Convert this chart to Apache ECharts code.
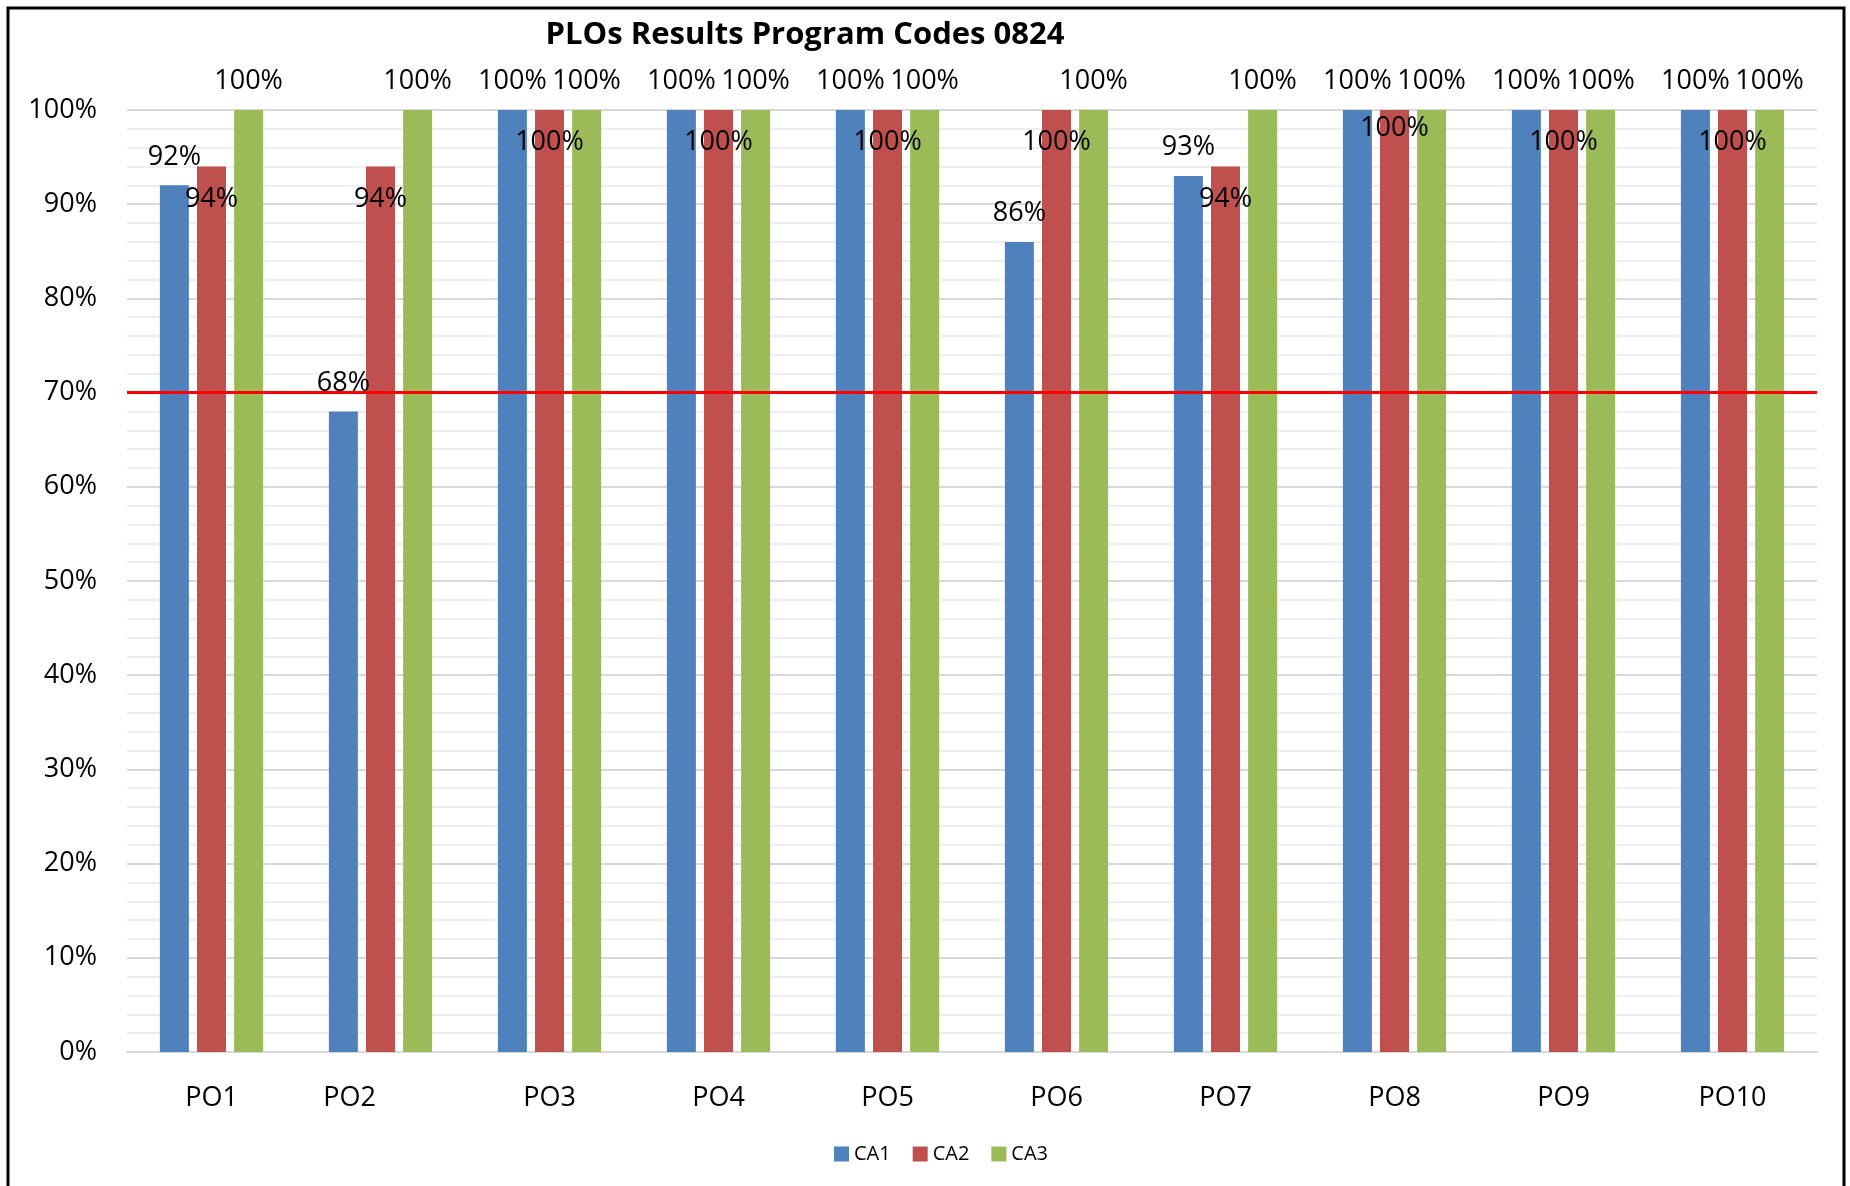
<!DOCTYPE html>
<html>
<head>
<meta charset="utf-8">
<script src="https://cdn.jsdelivr.net/npm/echarts@6/dist/echarts.min.js"></script>
<style>
  html, body { margin: 0; padding: 0; background: #fff; }
  #main { width: 1850px; height: 1186px; }
</style>
</head>
<body>
<div id="main"></div>
<script>
const categories = ['PO1', 'PO2', 'PO3', 'PO4', 'PO5', 'PO6', 'PO7', 'PO8', 'PO9', 'PO10'];
const ca1 = [0.92, 0.68, 1, 1, 1, 0.86, 0.93, 1, 1, 1];
const ca2 = [0.94, 0.94, 1, 1, 1, 1, 0.94, 1, 1, 1];
const ca3 = [1, 1, 1, 1, 1, 1, 1, 1, 1, 1];
const target = 0.7;

const FONT = '"Open Sans", sans-serif';

function pct(v) {
  return Math.round(v * 100) + '%';
}

const chart = echarts.init(document.getElementById('main'));

// PO2 label sits a little left of its bars in the original
const xData = categories.map(c => c === 'PO2'
  ? { value: c, textStyle: { padding: [0, 62, 0, 0] } }
  : c);

// red labels sit inside the bar top; PO8 one sits a bit higher
const ca2Data = ca2.map((v, i) => categories[i] === 'PO8'
  ? { value: v, label: { distance: 5 } }
  : v);

const option = {
  backgroundColor: '#fff',
  animation: false,
  title: {
    text: 'PLOs Results Program Codes 0824',
    left: 800,
    top: 15,
    textAlign: 'center',
    textStyle: { fontFamily: FONT, fontSize: 31, fontWeight: 'bold', color: '#000' }
  },
  legend: {
    bottom: 17,
    left: 829,
    itemWidth: 15,
    itemHeight: 15,
    itemGap: 22,
    icon: 'rect',
    textStyle: { fontFamily: FONT, fontSize: 20, color: '#000' },
    data: ['CA1', 'CA2', 'CA3']
  },
  grid: { left: 127, right: 33, top: 110, bottom: 134 },
  xAxis: {
    type: 'category',
    data: xData,
    axisLine: { lineStyle: { color: '#d9d9d9', width: 2 } },
    axisTick: { show: false },
    axisLabel: { fontFamily: FONT, fontSize: 27, color: '#000', margin: 33 }
  },
  yAxis: {
    type: 'value',
    min: 0,
    max: 1,
    interval: 0.1,
    axisLine: { show: false },
    axisTick: { show: false },
    axisLabel: { fontFamily: FONT, fontSize: 27, color: '#000', margin: 30, formatter: pct },
    splitLine: { lineStyle: { color: '#d9d9d9', width: 2 } },
    minorTick: { show: false, splitNumber: 5 },
    minorSplitLine: { show: true, lineStyle: { color: '#eeeeee', width: 2 } }
  },
  series: [
    {
      name: 'CA1',
      type: 'bar',
      data: ca1,
      barWidth: 29,
      barGap: '28%',
      itemStyle: { color: '#4f81bd' },
      label: {
        show: true, position: 'top', distance: 15,
        fontFamily: FONT, fontSize: 27, color: '#000', formatter: p => pct(p.value)
      },
      markLine: {
        silent: true,
        symbol: 'none',
        label: { show: false },
        lineStyle: { color: '#ff0000', width: 3, type: 'solid' },
        data: [{ yAxis: target }]
      }
    },
    {
      name: 'CA2',
      type: 'bar',
      data: ca2Data,
      barWidth: 29,
      barGap: '28%',
      itemStyle: { color: '#c0504d' },
      label: {
        show: true, position: 'insideTop', distance: 19,
        fontFamily: FONT, fontSize: 27, color: '#000', formatter: p => pct(p.value)
      }
    },
    {
      name: 'CA3',
      type: 'bar',
      data: ca3,
      barWidth: 29,
      barGap: '28%',
      itemStyle: { color: '#9bbb59' },
      label: {
        show: true, position: 'top', distance: 15,
        fontFamily: FONT, fontSize: 27, color: '#000', formatter: p => pct(p.value)
      }
    }
  ],
  graphic: [{
    type: 'rect',
    silent: true,
    shape: { x: 8, y: 8, width: 1836, height: 1200 },
    style: { fill: 'none', stroke: '#000', lineWidth: 3 },
    z: 100
  }]
};

chart.setOption(option);
</script>
</body>
</html>
